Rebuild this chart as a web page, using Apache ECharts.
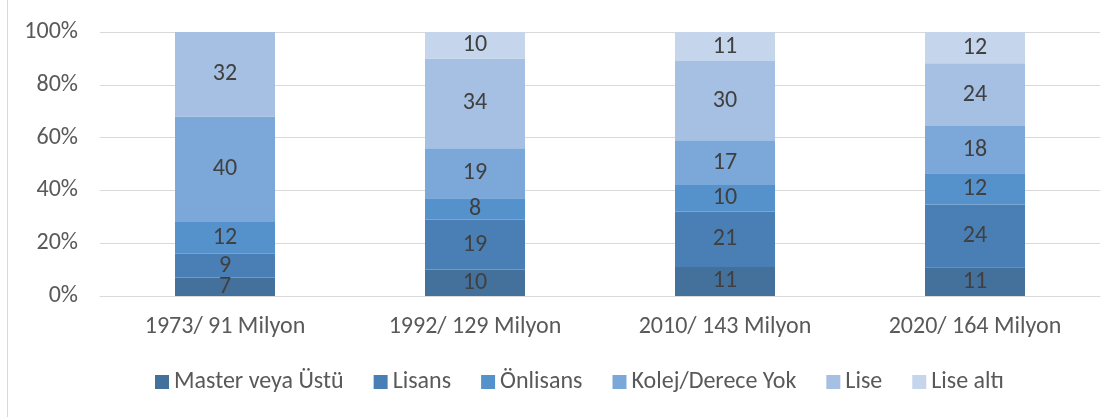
<!DOCTYPE html>
<html><head><meta charset="utf-8">
<script src="https://cdn.jsdelivr.net/npm/echarts@6/dist/echarts.min.js"></script>
<style>html,body{margin:0;padding:0;background:#fff}#c{width:1118px;height:417px}</style>
</head><body><div id="c"></div>
<script>
const categories = ['1973/ 91 Milyon', '1992/ 129 Milyon', '2010/ 143 Milyon', '2020/ 164 Milyon'];
const seriesNames = ['Master veya Üstü', 'Lisans', 'Önlisans', 'Kolej/Derece Yok', 'Lise', 'Lise altı'];
const masterVeyaUstu = [7, 10, 11, 11];
const lisans = [9, 19, 21, 24];
const onlisans = [12, 8, 10, 12];
const kolejDereceYok = [40, 19, 17, 18];
const lise = [32, 34, 30, 24];
const liseAlti = [0, 10, 11, 12];
const yTicks = ['0%', '20%', '40%', '60%', '80%', '100%'];
const colors = ['#44709c', '#4a7fb6', '#5592cc', '#7ba8d9', '#a5c0e3', '#c4d5ec'];

const raw = [masterVeyaUstu, lisans, onlisans, kolejDereceYok, lise, liseAlti];
const totals = categories.map((_, i) => raw.reduce((s, a) => s + a[i], 0));
const FONT = 'Carlito, "Liberation Sans", sans-serif';

const chart = echarts.init(document.getElementById('c'));
chart.setOption({
  animation: false,
  color: colors,
  graphic: [{type: 'line', shape: {x1: 7.5, y1: 0, x2: 7.5, y2: 417}, style: {stroke: '#d9d9d9', lineWidth: 1}}],
  grid: {left: 100, right: 18, top: 32, bottom: 121, containLabel: false},
  legend: {
    bottom: 18, left: 150, itemWidth: 14, itemHeight: 14, itemGap: 30, icon: 'rect',
    textStyle: {fontFamily: FONT, fontSize: 24, color: '#595959', padding: [0, 0, 0, 0]},
    data: seriesNames
  },
  xAxis: {
    type: 'category', data: categories,
    axisLine: {lineStyle: {color: '#d9d9d9'}}, axisTick: {show: false},
    axisLabel: {fontFamily: FONT, fontSize: 24, color: '#595959', margin: 19}
  },
  yAxis: {
    type: 'value', min: 0, max: 100, interval: 20,
    axisLabel: {fontFamily: FONT, fontSize: 24, color: '#595959', margin: 22,
      formatter: v => yTicks[Math.round(v / 20)]},
    splitLine: {lineStyle: {color: '#d9d9d9', width: 1}},
    axisLine: {show: false}, axisTick: {show: false}
  },
  series: raw.map((arr, k) => ({
    name: seriesNames[k], type: 'bar', stack: 'total', barWidth: '40%',
    itemStyle: {color: colors[k]},
    label: {show: true, position: 'inside', fontFamily: FONT, fontSize: 24, color: '#404040',
      formatter: p => arr[p.dataIndex] ? String(arr[p.dataIndex]) : ''},
    data: arr.map((v, i) => v / totals[i] * 100)
  }))
});
</script></body></html>
